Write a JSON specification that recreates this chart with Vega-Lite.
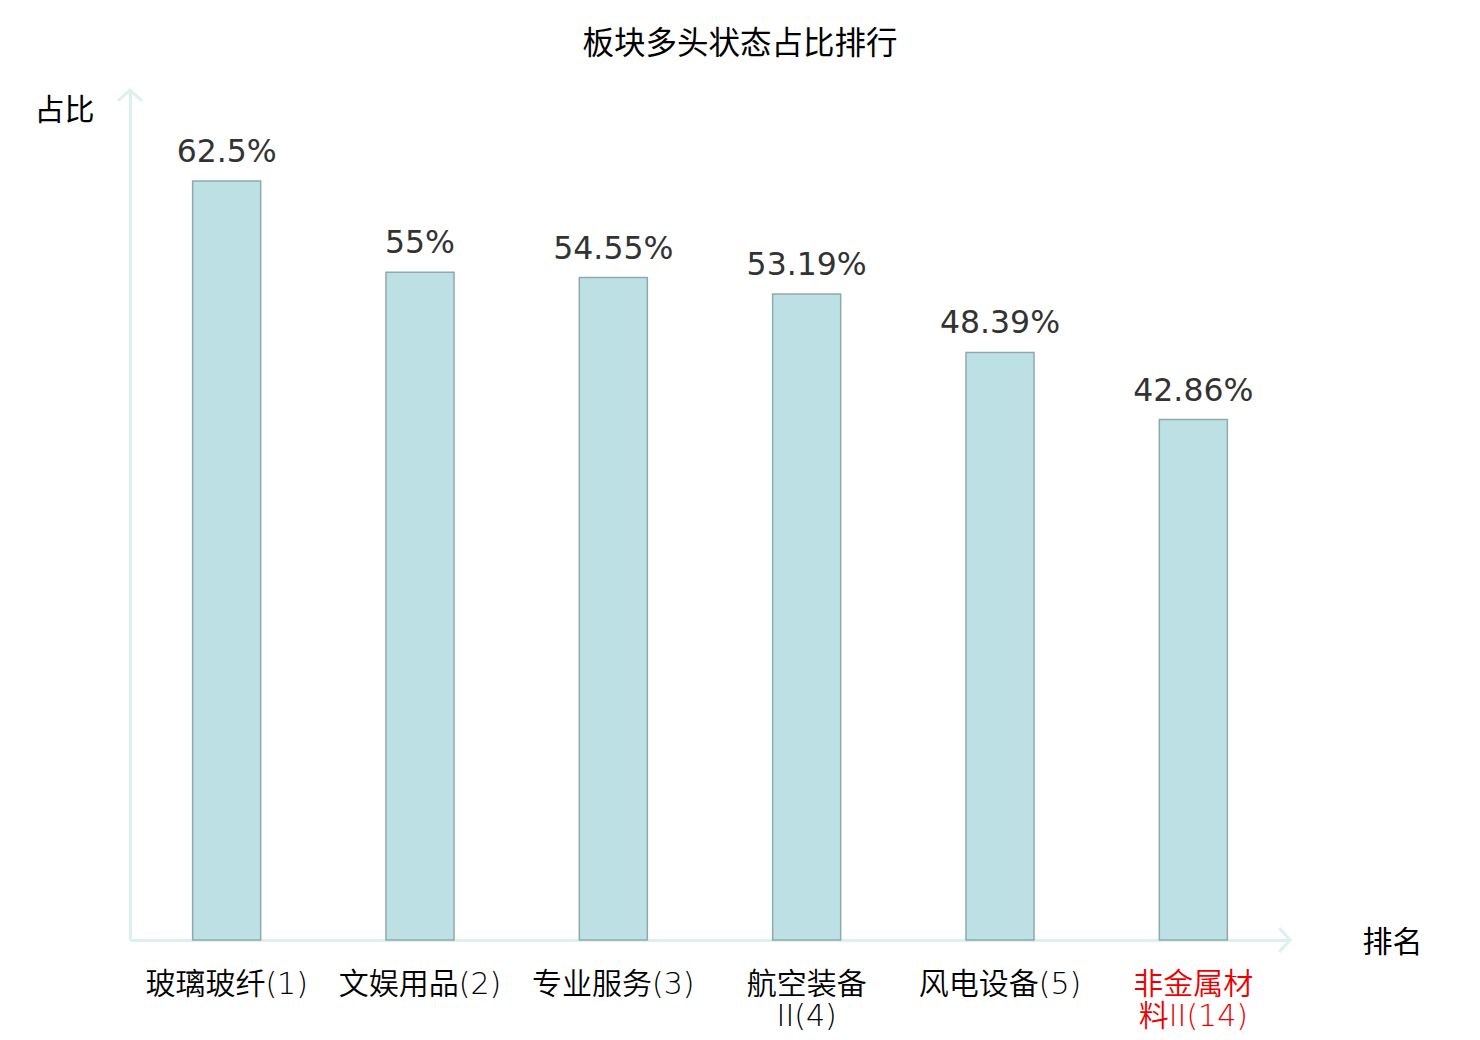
{
  "$schema": "https://vega.github.io/schema/vega-lite/v6.json",
  "width": 1160,
  "height": 850,
  "autosize": {"type": "none"},
  "padding": {"left": 130, "top": 90, "right": 190, "bottom": 100},
  "background": "white",
  "title": {
    "text": "板块多头状态占比排行",
    "font": "Noto Sans CJK SC",
    "fontSize": 31.5,
    "fontWeight": "normal",
    "color": "#000000",
    "anchor": "middle",
    "dx": 30,
    "offset": 24
  },
  "config": {"view": {"stroke": null}},
  "resolve": {"scale": {"x": "independent"}},
  "layer": [
    {
      "data": {
        "values": [
          {"sector": "玻璃玻纤(1)", "ratio": 0.625},
          {"sector": "文娱用品(2)", "ratio": 0.55},
          {"sector": "专业服务(3)", "ratio": 0.5455},
          {"sector": "航空装备II(4)", "ratio": 0.5319},
          {"sector": "风电设备(5)", "ratio": 0.4839},
          {"sector": "非金属材料II(14)", "ratio": 0.4286}
        ]
      },
      "encoding": {
        "x": {
          "field": "sector",
          "type": "nominal",
          "sort": null,
          "scale": {"paddingInner": 0, "paddingOuter": 0},
          "axis": {
            "title": "排名",
            "titleFont": "Noto Sans CJK SC",
            "titleFontSize": 30,
            "titleFontWeight": "normal",
            "titleColor": "#000000",
            "titleAngle": 0,
            "titleX": 1262,
            "titleY": 2,
            "titleAlign": "center",
            "titleBaseline": "middle",
            "labelAngle": 0,
            "labelFont": "DejaVu Sans, Noto Sans CJK SC",
            "labelFontWeight": 350,
            "labelFontSize": 30,
            "labelPadding": 29,
            "labelLineHeight": 32,
            "labelLimit": 300,
            "labelBaseline": "top",
            "labelExpr": "length(datum.label) > 8 ? [slice(datum.label, 0, 4), slice(datum.label, 4)] : datum.label",
            "labelColor": {"condition": {"test": "datum.value == '非金属材料II(14)'", "value": "#ee0000"}, "value": "#000000"},
            "ticks": false,
            "domainColor": "#dcf0ee",
            "domainWidth": 3
          }
        },
        "y": {
          "field": "ratio",
          "type": "quantitative",
          "scale": {"domain": [0, 0.7], "nice": false},
          "axis": {
            "title": "占比",
            "titleFont": "Noto Sans CJK SC",
            "titleFontSize": 30,
            "titleFontWeight": "normal",
            "titleColor": "#000000",
            "titleAngle": 0,
            "titleX": -66,
            "titleY": 20,
            "titleAlign": "center",
            "titleBaseline": "middle",
            "labels": false,
            "ticks": false,
            "grid": false,
            "domainColor": "#dcf0ee",
            "domainWidth": 3
          }
        }
      },
      "layer": [
        {
          "mark": {"type": "bar", "width": {"band": 0.352}, "fill": "#bce0e3", "stroke": "#8eaaab", "strokeWidth": 1.5}
        },
        {
          "mark": {"type": "text", "font": "DejaVu Sans", "fontSize": 31.5, "color": "#333333", "baseline": "alphabetic", "dy": -19},
          "encoding": {"text": {"field": "ratio", "type": "quantitative", "format": ".2~%"}}
        }
      ]
    },
    {
      "data": {"values": [{"end": "y", "px": 0, "py": 0.7}]},
      "mark": {"type": "point", "shape": "M-1,0.9L0,0L1,0.9", "filled": false, "stroke": "#dcf0ee", "strokeWidth": 3, "size": 576, "opacity": 1},
      "encoding": {
        "x": {"field": "px", "type": "quantitative", "scale": {"domain": [0, 1]}, "axis": null},
        "y": {"field": "py", "type": "quantitative"}
      }
    },
    {
      "data": {"values": [{"end": "x", "px": 1, "py": 0}]},
      "mark": {"type": "point", "shape": "M-0.9,-1L0,0L-0.9,1", "filled": false, "stroke": "#dcf0ee", "strokeWidth": 3, "size": 576, "opacity": 1},
      "encoding": {
        "x": {"field": "px", "type": "quantitative", "scale": {"domain": [0, 1]}, "axis": null},
        "y": {"field": "py", "type": "quantitative"}
      }
    }
  ]
}
